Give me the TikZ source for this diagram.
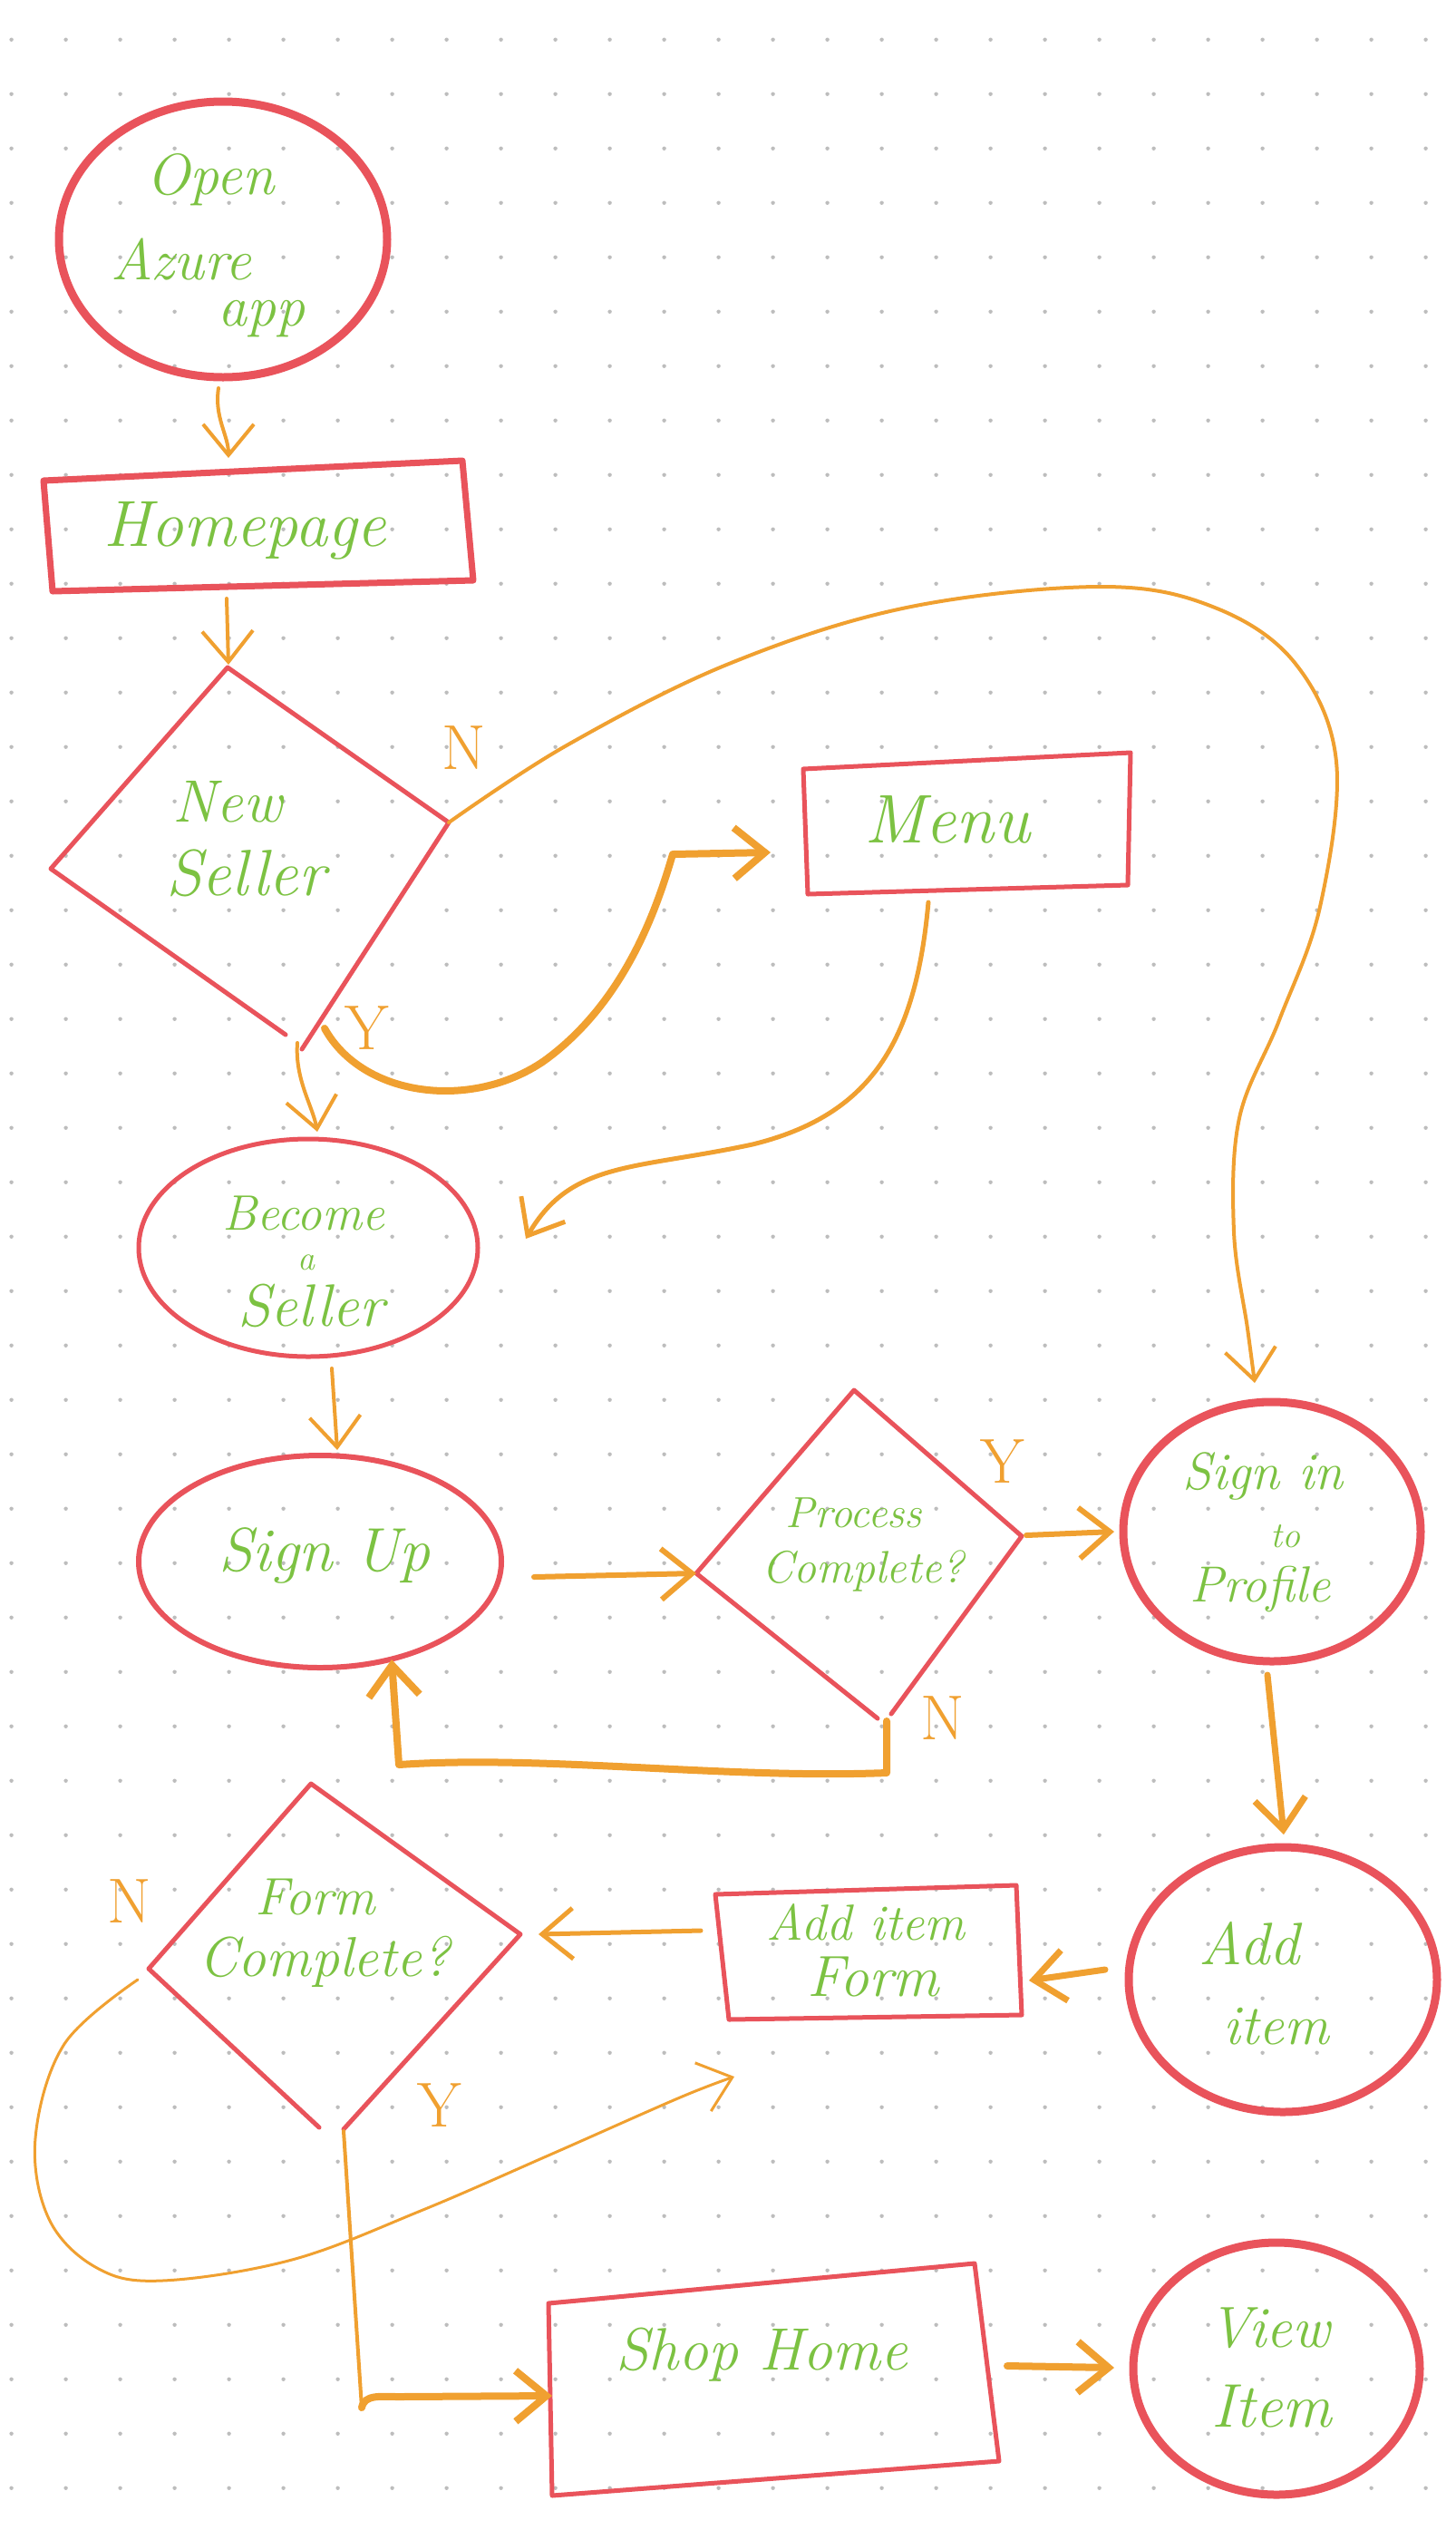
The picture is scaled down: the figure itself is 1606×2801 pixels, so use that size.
\documentclass[tikz,border=0pt]{standalone}
\usepackage{fontspec}
\usetikzlibrary{shapes.geometric,arrows.meta}
\definecolor{cred}{HTML}{E9535B}
\definecolor{cgreen}{HTML}{7CC242}
\definecolor{corange}{HTML}{F0A030}
\definecolor{cdot}{HTML}{BDBDBD}
\newcommand\myfs[1]{\fontsize{#1}{#1}\selectfont}
\tikzset{
  outl/.style={draw=cred, line width=6pt, line cap=round, line join=round},
  thickol/.style={outl, line width=9pt},
  tx/.style={text=cgreen, inner sep=0pt, font=\myfs{#1}\itshape},
  yn/.style={text=corange, inner sep=0pt, font=\myfs{70}},
  conn/.style={draw=corange, line width=4pt, line cap=round, line join=round, -{Straight Barb[length=34pt,width=56pt]}},
  heavy/.style={conn, line width=8pt},
  plain/.style={draw=corange, line width=4pt, line cap=round, line join=round},
}
\begin{document}
\begin{tikzpicture}[x={(1pt,0pt)}, y={(0pt,-1pt)}]
\useasboundingbox (0,0) rectangle (1606,2801);
\fill[white] (0,0) rectangle (1606,2801);
\foreach \i in {0,...,26} \foreach \j in {0,...,45}
  \fill[cdot] ({12.6+60*\i},{43.7+60*\j}) circle[radius=2.2pt];

% ---------- shapes ----------
\node[thickol, ellipse, minimum width=362pt, minimum height=304pt] (open) at (246,264) {};
\draw[outl, line width=7pt] (48,530) -- (510,508) -- (522,640) -- (58,652) -- cycle;
\coordinate (home-n) at (252,505);
\coordinate (home-s) at (250,660);

\coordinate (ns-n) at (251,736);
\coordinate (ns-e) at (495,907);
\coordinate (ns-w) at (56,958);
\coordinate (ns-s) at (328,1150);
\draw[outl, line width=5pt] (315,1141) -- (ns-w) -- (ns-n) -- (ns-e) -- (333,1157);

\draw[outl, line width=5pt] (886,848) -- (1247,830) -- (1244,976) -- (891,986) -- cycle;
\coordinate (menu-w) at (850,940);
\coordinate (menu-s) at (1024,995);

\node[outl, line width=5pt, ellipse, minimum width=374pt, minimum height=240pt] (become) at (340,1376) {};
\node[outl, ellipse, minimum width=400pt, minimum height=234pt] (signup) at (353,1722) {};

\coordinate (pc-n) at (942,1533);
\coordinate (pc-e) at (1127,1694);
\coordinate (pc-w) at (768,1735);
\coordinate (pc-s) at (978,1898);
\draw[outl, line width=5pt] (968,1895) -- (pc-w) -- (pc-n) -- (pc-e) -- (983,1890);

\node[thickol, ellipse, minimum width=328pt, minimum height=286pt] (signin) at (1403,1689) {};
\node[thickol, ellipse, minimum width=340pt, minimum height=292pt] (additem) at (1415,2183) {};

\draw[outl, line width=5pt] (789,2089) -- (1121,2079) -- (1127,2222) -- (804,2227) -- cycle;
\coordinate (aif-e) at (1135,2184);
\coordinate (aif-w) at (773,2129);

\coordinate (fc-n) at (343,1967);
\coordinate (fc-e) at (574,2133);
\coordinate (fc-w) at (164,2171);
\coordinate (fc-s) at (379,2350);
\draw[outl, line width=5pt] (352,2346) -- (fc-w) -- (fc-n) -- (fc-e) -- (379,2348);

\draw[outl, line width=5pt] (605,2540) -- (1075,2496) -- (1102,2714) -- (609,2752) -- cycle;
\coordinate (shop-w) at (609,2642);
\coordinate (shop-e) at (1111,2609);

\node[thickol, ellipse, minimum width=316pt, minimum height=278pt] (view) at (1408,2612) {};

% ---------- texts ----------
\node[tx=64] (t-open1) at (232,198) {Open};
\node[tx=64] (t-open2) at (200,286) {Azure};
\node[tx=64] (t-open3) at (288,352) {app};
\node[tx=72] (t-home) at (270,585) {Homepage};
\node[tx=66] (t-new) at (251,884) {New};
\node[tx=72] (t-seller) at (271,963) {Seller};
\node[tx=76] (t-menu) at (1045,904) {Menu};
\node[tx=55] (t-become) at (335,1338) {Become};
\node[tx=38] (t-a) at (338,1392) {a};
\node[tx=66] (t-seller2) at (343,1440) {Seller};
\node[tx=68] (t-signup) at (358,1715) {Sign Up};
\node[tx=48] (t-proc1) at (942,1668) {Process};
\node[tx=50] (t-proc2) at (952,1732) {Complete?};
\node[tx=58] (t-signin1) at (1393,1628) {Sign in};
\node[tx=40] (t-signin2) at (1418,1694) {to};
\node[tx=56] (t-signin3) at (1390,1752) {Profile};
\node[tx=66] (t-add1) at (1378,2143) {Add};
\node[tx=62] (t-add2) at (1408,2235) {item};
\node[tx=56] (t-aif1) at (955,2120) {Add item};
\node[tx=64] (t-aif2) at (963,2180) {Form};
\node[tx=58] (t-fc1) at (348,2092) {Form};
\node[tx=62] (t-fc2) at (358,2163) {Complete?};
\node[tx=66] (t-shop) at (840,2597) {Shop Home};
\node[tx=64] (t-view1) at (1400,2567) {View};
\node[tx=68] (t-view2) at (1403,2654) {Item};

\node[yn] (n1) at (512,825) {N};
\node[yn] (y1) at (405,1134) {Y};
\node[yn] (y2) at (1106,1612) {Y};
\node[yn] (n2) at (1040,1895) {N};
\node[yn] (n3) at (143,2097) {N};
\node[yn] (y3) at (485,2322) {Y};

% ---------- connectors ----------
\coordinate (open-s) at (241,428);
\draw[conn] (open-s) .. controls (236,460) and (252,480) .. (home-n);
\coordinate (ns-in) at (252,733);
\draw[conn] (home-s) -- (ns-in);

\coordinate (ns-y) at (358,1134);
\draw[heavy] (ns-y) .. controls (400,1210) and (520,1225) .. (600,1170)
   .. controls (690,1105) and (725,1000) .. (742,942) -- (menu-w);

\coordinate (become-n) at (350,1248);
\draw[conn] (ns-s) .. controls (325,1190) and (345,1220) .. (become-n);

\coordinate (become-e) at (580,1366);
\draw[conn, line width=5pt] (menu-s) .. controls (1010,1150) and (960,1230) .. (830,1262)
   .. controls (700,1290) and (630,1280) .. (become-e);

\coordinate (signin-n) at (1384,1525);
\draw[conn] plot[smooth, tension=0.6] coordinates {(ns-e) (625,822) (804,732) (1000,670)
   (1215,647) (1340,670) (1429,732) (1474,840) (1456,1000) (1411,1125) (1367,1233)
   (1361,1358) (1376,1465) (signin-n)};

\coordinate (become-s) at (366,1509);
\coordinate (signup-n) at (372,1599);
\draw[conn] (become-s) -- (signup-n);

\coordinate (signup-e) at (589,1739);
\draw[conn, line width=6pt] (signup-e) -- (pc-w);

\coordinate (pc-out) at (1132,1693);
\coordinate (signin-w) at (1229,1689);
\draw[conn, line width=6pt] (pc-out) -- (signin-w);

\coordinate (signup-se) at (432,1830);
\draw[heavy] (pc-s) -- (978,1955) .. controls (800,1962) and (600,1935) .. (440,1946) -- (signup-se);

\coordinate (signin-s) at (1398,1847);
\coordinate (additem-n) at (1416,2023);
\draw[heavy, line width=7pt] (signin-s) -- (additem-n);

\coordinate (additem-w) at (1219,2172);
\draw[heavy, line width=7pt] (additem-w) -- (aif-e);

\coordinate (fc-in) at (594,2133);
\draw[conn, line width=5pt] (aif-w) -- (fc-in);

\coordinate (fc-loop) at (152,2183);
\coordinate (loop-end) at (810,2290);
\draw[conn, line width=3pt] plot[smooth, tension=0.6] coordinates {(fc-loop) (71,2254) (39,2358)
   (54,2447) (107,2501) (179,2515) (322,2492) (464,2438) (607,2376) (750,2313) (loop-end)};

\coordinate (fc-bend) at (399,2655);
\draw[plain] (fc-s) -- (fc-bend);
\draw[heavy] (fc-bend) .. controls (402,2640) and (420,2643) .. (440,2643) -- (shop-w);

\coordinate (view-w) at (1229,2611);
\draw[heavy] (shop-e) -- (view-w);
\end{tikzpicture}
\end{document}
